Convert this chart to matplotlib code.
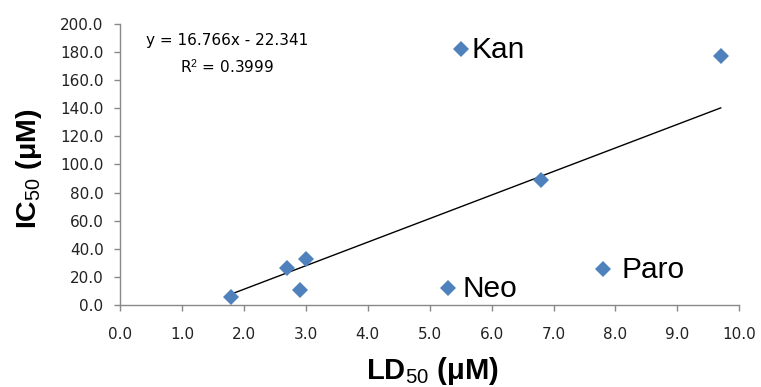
import matplotlib
matplotlib.use("Agg")
import matplotlib.pyplot as plt
import numpy as np

# LD50 vs IC50 data (µM)
ld50 = [1.8, 2.7, 2.9, 3.0, 5.3, 7.8, 6.8, 5.5, 9.7]
ic50 = [5.5, 26.0, 11.0, 33.0, 12.3, 25.4, 89.0, 182.0, 177.0]
labels = {"Kan": (5.5, 182.0), "Neo": (5.3, 12.3), "Paro": (7.8, 25.4)}
label_dx = {"Kan": 8.0, "Neo": 10.5, "Paro": 13.5}

slope = 16.766
intercept = -22.341
r_squared = 0.3999

xticks = np.arange(0, 10.01, 1.0)
yticks = np.arange(0, 200.01, 20.0)

plt.rcParams["font.family"] = ["Liberation Sans", "DejaVu Sans"]
plt.rcParams["mathtext.fontset"] = "custom"
plt.rcParams["mathtext.rm"] = "Liberation Sans"
plt.rcParams["mathtext.bf"] = "Liberation Sans:bold"
plt.rcParams["mathtext.it"] = "Liberation Sans:italic"

fig = plt.figure(figsize=(7.61, 3.87), dpi=100)
ax = fig.add_axes([0.1577, 0.2119, 0.9715 - 0.1577, 0.938 - 0.2119])

# trendline over the data range
xs = np.array([min(ld50), max(ld50)])
ax.plot(xs, slope * xs + intercept, color="black", lw=1.0, zorder=2)

ax.plot(ld50, ic50, linestyle="none", marker="D", markersize=8.3,
        color="#4F81BD", markeredgewidth=0, zorder=3)

ax.set_xlim(0, 10)
ax.set_ylim(0, 200)
ax.set_xticks(xticks)
ax.set_yticks(yticks)
ax.set_xticklabels([f"{v:.1f}" for v in xticks])
ax.set_yticklabels([f"{v:.1f}" for v in yticks])

for s in ("top", "right"):
    ax.spines[s].set_visible(False)
for s in ("left", "bottom"):
    ax.spines[s].set_color("#898989")
    ax.spines[s].set_linewidth(1.0)
ax.tick_params(axis="both", colors="#898989", labelcolor="#222222",
               labelsize=11, length=4.3, width=1.0, direction="out")
for lab in ax.get_xticklabels() + ax.get_yticklabels():
    lab.set_family("DejaVu Sans")
ax.tick_params(axis="x", pad=11.5)
ax.tick_params(axis="y", pad=7.5)

fig.text(432 / 761, 1 - 379 / 387,
         r"$\mathbf{LD}_{\mathrm{50}}\ \mathbf{(μM)}$",
         fontsize=21, ha="center", va="baseline")
fig.text(36 / 761, 1 - 168.5 / 387,
         r"$\mathbf{IC}_{\mathrm{50}}\ \mathbf{(μM)}$",
         fontsize=20.5, ha="center", va="baseline", rotation=90,
         rotation_mode="anchor")

for name, (x, y) in labels.items():
    ax.annotate(name, (x, y), xytext=(label_dx[name], -6.6),
                textcoords="offset points",
                fontsize=21.5, va="baseline", ha="left", color="black")

ax.text(0.173, 0.940, f"y = {slope}x - {abs(intercept)}", transform=ax.transAxes,
        fontsize=11, ha="center", va="center", family="DejaVu Sans")
ax.text(0.173, 0.847, f"R$^2$ = {r_squared}", transform=ax.transAxes,
        fontsize=11, ha="center", va="center", family="DejaVu Sans")

fig.savefig("out.png", dpi=100)
